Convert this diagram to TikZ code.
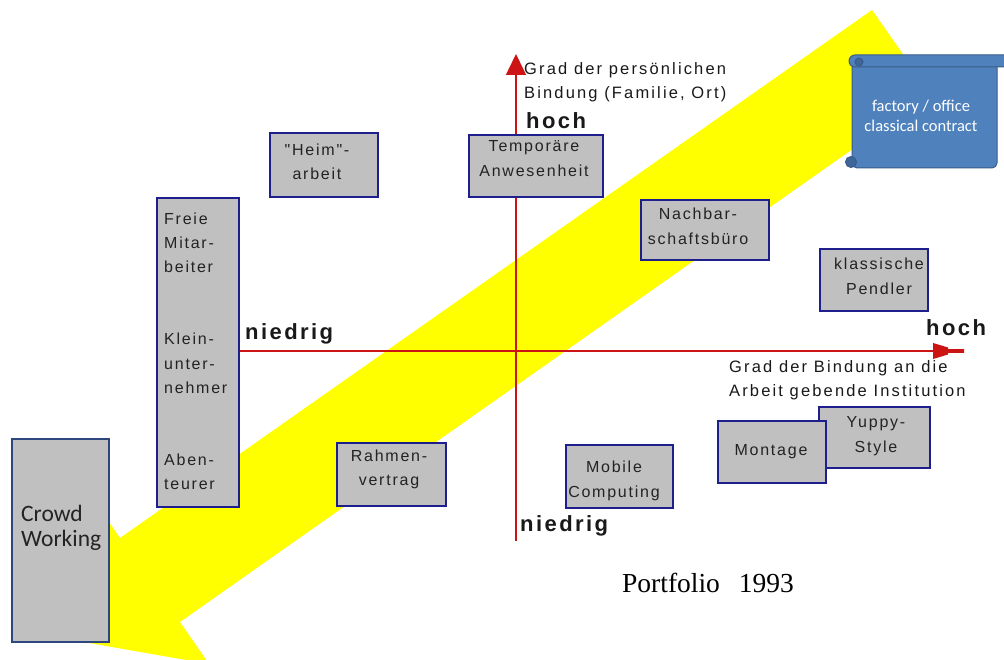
\documentclass[tikz,border=0pt]{standalone}
\usepackage{fontspec}
\setmainfont{Liberation Sans}
\newfontfamily\spaced[LetterSpace=11]{Liberation Sans}
\newfontfamily\spacedlab[LetterSpace=13]{Liberation Sans}
\newfontfamily\calib{Carlito}
\newfontfamily\timesf{Liberation Serif}
\usetikzlibrary{arrows.meta}

\definecolor{arrowyellow}{RGB}{255,255,0}
\definecolor{axisred}{RGB}{204,20,20}
\definecolor{boxgray}{RGB}{192,192,192}
\definecolor{boxline}{RGB}{30,30,140}
\definecolor{crowdline}{RGB}{45,70,125}
\definecolor{boxtextc}{RGB}{35,35,35}
\definecolor{scrollblue}{RGB}{79,129,189}
\definecolor{scrollline}{RGB}{56,93,138}
\definecolor{scrolldark}{RGB}{62,102,152}

\tikzset{
  box/.style={draw=boxline, line width=1.6pt, fill=boxgray, inner sep=0pt},
  boxtext/.style={font=\spaced\fontsize{16}{24.5}\selectfont, text=boxtextc,
    align=center, inner sep=0pt},
  axislabel/.style={font=\spacedlab\fontsize{16.5}{24}\selectfont, text=black!90,
    align=left, inner sep=0pt, anchor=north west},
  axisword/.style={font=\spaced\bfseries\fontsize{22}{26}\selectfont,
    text=black!90, inner sep=0pt, anchor=base west},
  axis/.style={draw=axisred, line width=1.5pt},
  scrollpart/.style={fill=scrollblue, draw=scrollline, line width=1pt},
}

\begin{document}
\begin{tikzpicture}[x=1pt,y=-1pt]
\clip (0,0) rectangle (1004,660);
\fill[white] (0,0) rectangle (1004,660);

% broad yellow arrow running from the upper right down to the lower left
\fill[arrowyellow] (872,10) -- (120,538) -- (91,496) -- (66,639)
  -- (209,664) -- (180,622) -- (931,94) -- cycle;

% scroll with the classical contract
\filldraw[scrollpart, rounded corners=5pt] (852,62) -- (852,168) -- (997,168) -- (997,62);
\filldraw[scrollpart, rounded corners=6pt] (1012,55) -- (849,55) -- (849,67) -- (1012,67);
\filldraw[scrollpart, fill=scrolldark] (859,62) circle (4);
\filldraw[scrollpart, fill=scrolldark] (851,162) circle (5.5);
\node[font=\calib\fontsize{16.5}{20}\selectfont, text=white, align=center, inner sep=0pt]
  (scroll) at (921,116) {factory / office\\classical contract};

% axes
\coordinate (vtop) at (516,54);
\coordinate (vbot) at (516,541);
\coordinate (hleft) at (240,351);
\coordinate (hright) at (964,351);
\draw[axis, -{Triangle[width=20pt,length=21pt]}] (vbot) -- (vtop);
\draw[axis] (hleft) -- (hright);
\begin{scope}[shift={(hright)}]
  \fill[axisred] (-31,-8) -- (-16,-3.5) -- (-16,-2) -- (0,-1.8) -- (0,1.8)
    -- (-16,2) -- (-16,3.5) -- (-31,8) -- cycle;
\end{scope}

% axis labels
\node[axislabel] (vlabel) at (524,62.5) {Grad der persönlichen\\Bindung (Familie, Ort)};
\node[axisword] (vhigh) at (526,129) {hoch};
\node[axisword] (vlow) at (520,531) {niedrig};
\node[axislabel] (hlabel) at (729,360.5) {Grad der Bindung an die\\Arbeit gebende Institution};
\node[axisword] (hhigh) at (926,336) {hoch};
\node[axisword] (hlow) at (245,339) {niedrig};

% boxes
\node[box, minimum width=108pt, minimum height=64pt] (heim) at (324,165) {};
\node[boxtext] at (317,162) {"Heim"-\\arbeit};

\node[box, minimum width=134pt, minimum height=62pt] (temp) at (536,166) {};
\node[boxtext] at (534,158.5) {Temporäre\\Anwesenheit};

\node[box, minimum width=128pt, minimum height=60pt] (nachbar) at (705,230) {};
\node[boxtext] at (698,226.5) {Nachbar-\\schaftsbüro};

\node[box, minimum width=108pt, minimum height=62pt] (pendler) at (874,280) {};
\node[boxtext] at (879,276.5) {klassische\\Pendler};

\node[box, minimum width=82pt, minimum height=309pt] (frei) at (198,352.5) {};
\node[boxtext, align=left, anchor=north west, font=\spaced\fontsize{16}{24.1}\selectfont]
  at (164,212.7) {Freie\\Mitar-\\beiter\\[48.2pt]Klein-\\unter-\\nehmer\\[48.2pt]Aben-\\teurer};

\node[box, draw=crowdline, minimum width=97pt, minimum height=203pt] (crowd) at (60.5,540.5) {};
\node[boxtext, align=left, anchor=north west, font=\calib\fontsize{23.5}{25}\selectfont]
  at (21,505) {Crowd\\Working};

\node[box, minimum width=109pt, minimum height=63pt] (rahmen) at (391.5,474.5) {};
\node[boxtext] at (389,469.5) {Rahmen-\\vertrag};

\node[box, minimum width=107pt, minimum height=63pt] (mobile) at (619.5,476.5) {};
\node[boxtext] at (614,481) {Mobile\\Computing};

\node[box, minimum width=111pt, minimum height=61pt] (yuppy) at (874.5,437.5) {};
\node[boxtext] at (876,436) {Yuppy-\\Style};

\node[box, minimum width=108pt, minimum height=62pt] (montage) at (772,452) {};
\node[boxtext] at (771,452) {Montage};

% caption
\node[font=\timesf\fontsize{27.5}{30}\selectfont, inner sep=0pt, anchor=base west]
  (caption) at (622,592) {Portfolio\hspace{19pt}1993};
\end{tikzpicture}
\end{document}
